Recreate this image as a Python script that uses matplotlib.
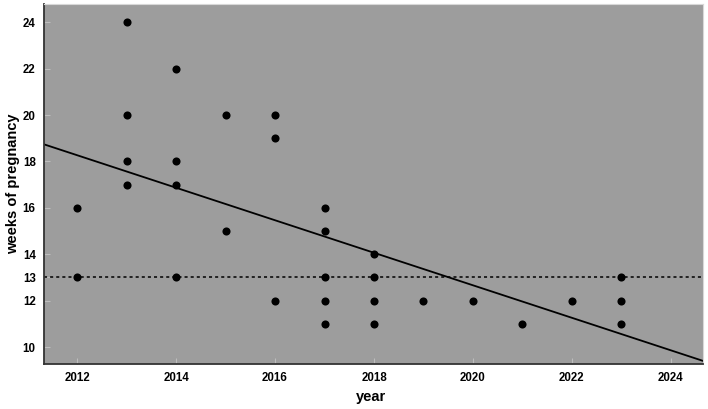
import matplotlib
matplotlib.use("Agg")
import matplotlib.pyplot as plt
import numpy as np

plt.rcParams['font.family'] = ['Liberation Sans', 'DejaVu Sans']

years = [2012, 2012,
         2013, 2013, 2013, 2013,
         2014, 2014, 2014, 2014,
         2015, 2015,
         2016, 2016, 2016,
         2017, 2017, 2017, 2017, 2017,
         2018, 2018, 2018, 2018,
         2019, 2020, 2021, 2022,
         2023, 2023, 2023]
weeks = [16, 13,
         24, 20, 18, 17,
         22, 18, 17, 13,
         20, 15,
         20, 19, 12,
         16, 15, 13, 12, 11,
         14, 13, 12, 11,
         12, 12, 11, 12,
         13, 12, 11]
reference_week = 13
x_ticks = [2012, 2014, 2016, 2018, 2020, 2022, 2024]
y_ticks = [10, 12, 13, 14, 16, 18, 20, 22, 24]

fig = plt.figure(figsize=(7.08, 4.09), dpi=100)
ax = fig.add_axes([0.0621, 0.110, 0.9309, 0.880])
ax.set_facecolor('#9d9d9d')

ax.scatter(years, weeks, s=34, color='black', zorder=3, linewidths=0)

xlim = (2011.33, 2024.65)
ylim = (9.27, 24.78)
slope, intercept = np.polyfit(years, weeks, 1)
xs = np.array(xlim)
ax.plot(xs, slope * xs + intercept, color='black', lw=1.3, zorder=2)
ax.axhline(reference_week, color='black', lw=1.1, ls=(0, (2, 2)), zorder=2)

ax.set_xlim(*xlim)
ax.set_ylim(*ylim)
ax.set_xticks(x_ticks)
ax.set_yticks(y_ticks)
ax.set_xticklabels([str(v) for v in x_ticks], fontsize=8.3, fontweight='bold')
ax.set_yticklabels([str(v) for v in y_ticks], fontsize=8.3, fontweight='bold')
ax.tick_params(direction='in', length=4, color='#bdbdbd', pad=6)

for s in ['left', 'bottom']:
    ax.spines[s].set_color('#333333')
    ax.spines[s].set_linewidth(1.3)
for s in ['top', 'right']:
    ax.spines[s].set_color('#d8d8d8')
    ax.spines[s].set_linewidth(0.8)

ax.set_xlabel('year', fontsize=10.5, fontweight='bold')
ax.set_ylabel('weeks of pregnancy', fontsize=10.5, fontweight='bold')
ax.xaxis.set_label_coords(0.496, -0.073)
ax.yaxis.set_label_coords(-0.037, 0.5)

fig.savefig('out.png', dpi=100)
